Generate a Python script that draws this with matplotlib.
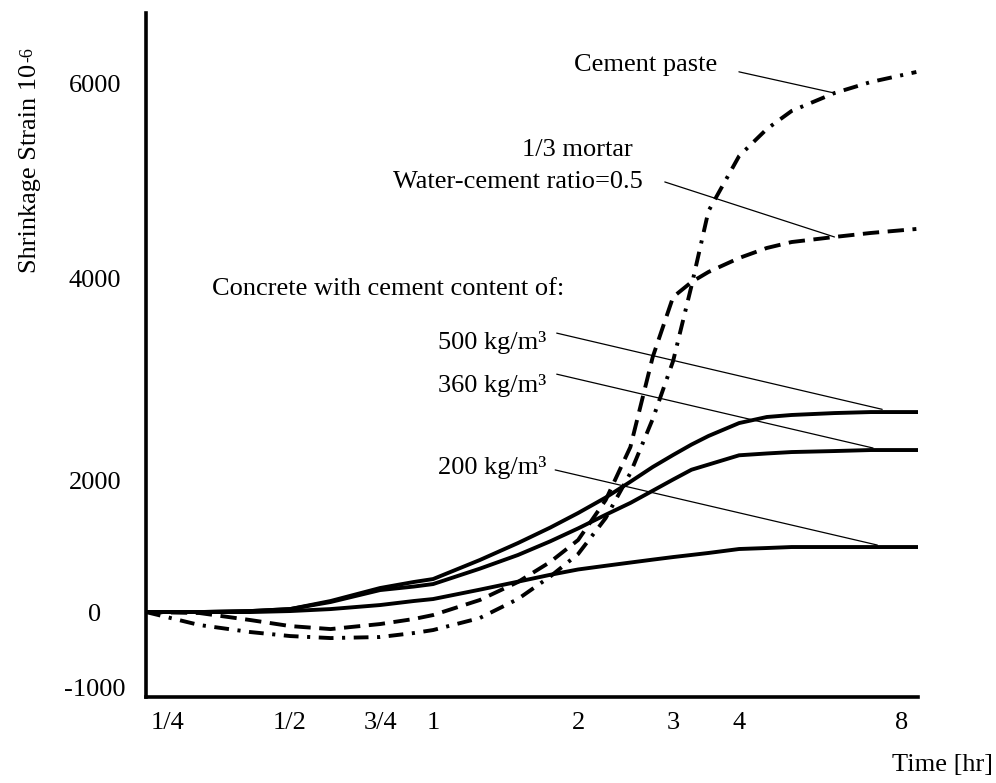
import numpy as np
import matplotlib
matplotlib.use("Agg")
import matplotlib.pyplot as plt

plt.rcParams['font.family'] = ['Liberation Serif', 'DejaVu Serif']
plt.rcParams['axes.unicode_minus'] = False

# time axis [hr]
x_ticks = [0.25, 0.5, 0.75, 1, 2, 3, 4, 8]
x_ticklabels = ['1/4', '1/2', '3/4', '1', '2', '3', '4', '8']
y_ticks = [-1000, 0, 2000, 4000, 6000]

# shrinkage strain curves, 10^-6
t = [0.222, 0.3, 0.4, 0.5, 0.6, 0.75, 0.9, 1, 1.25, 1.5, 1.75, 2, 2.25, 2.5,
     2.75, 3, 3.25, 3.5, 4, 4.5, 5, 6, 7, 8.5]
paste = [0, -173, -267, -320, -347, -333, -280, -240, -80, 197, 538, 879,
         1424, 2069, 2604, 3178, 3921, 4687, 5251, 5528, 5713, 5897, 6010, 6113]
mortar = [0, -13, -107, -187, -227, -160, -93, -40, 182, 455, 758, 1091,
          1697, 2327, 3218, 3812, 3960, 4062, 4205, 4308, 4369, 4421, 4462, 4503]
c500 = [0, 0, 15, 45, 167, 364, 455, 500, 788, 1045, 1279, 1500, 1735, 1974,
        2129, 2248, 2351, 2436, 2564, 2624, 2644, 2663, 2673, 2673]
c360 = [0, 0, 15, 45, 152, 333, 386, 424, 657, 864, 1071, 1267, 1474, 1653,
        1838, 2005, 2102, 2153, 2245, 2263, 2277, 2287, 2297, 2297]
c200 = [0, 0, 0, 15, 45, 106, 167, 197, 339, 460, 564, 645, 701, 750, 794,
        833, 865, 895, 955, 970, 985, 985, 985, 985]

# the original axes are hand-drawn, so both scales are piecewise linear
x_knots = [0, 123, 213, 266, 411, 506, 572, 735]     # at log2 of x_ticks
y_knots = [-75, 0, 132, 334, 529]                    # at y_ticks


def piecewise(xk, yk):
    xk = np.asarray(xk, float)
    yk = np.asarray(yk, float)

    def f(x):
        x = np.asarray(x, float)
        y = np.interp(x, xk, yk)
        lo = yk[0] + (x - xk[0]) * (yk[1] - yk[0]) / (xk[1] - xk[0])
        hi = yk[-1] + (x - xk[-1]) * (yk[-1] - yk[-2]) / (xk[-1] - xk[-2])
        return np.where(x < xk[0], lo, np.where(x > xk[-1], hi, y))
    return f


lx = np.log2(x_ticks)
x_fwd = piecewise(lx, x_knots)
x_inv = piecewise(x_knots, lx)
y_fwd = piecewise(y_ticks, y_knots)
y_inv = piecewise(y_knots, y_ticks)

fig = plt.figure(figsize=(9.96, 7.83), dpi=100)
ax = fig.add_axes([0.1466, 0.1098, 0.7751, 0.8736])
ax.set_xscale('function', functions=(lambda v: x_fwd(np.log2(np.maximum(v, 1e-6))),
                                     lambda p: 2.0 ** x_inv(p)))
ax.set_yscale('function', functions=(y_fwd, y_inv))

lw = 2.8
ax.plot(t, paste, color='black', lw=lw, dashes=(3.8, 2.2, 0.8, 2.2))
ax.plot(t, mortar, color='black', lw=lw, dashes=(4.2, 2.2))
ax.plot(t, c500, color='black', lw=lw)
ax.plot(t, c360, color='black', lw=lw)
ax.plot(t, c200, color='black', lw=lw)

ax.set_xlim(0.222, 8.56)
ax.set_ylim(-1133, 6718)
ax.set_xticks(x_ticks)
ax.set_xticklabels(x_ticklabels)
ax.set_yticks(y_ticks)
ax.minorticks_off()
ax.tick_params(axis='both', length=0, labelsize=19)
ax.tick_params(axis='x', pad=11)
ax.tick_params(axis='y', pad=36.7)
for lab in ax.get_yticklabels():
    lab.set_horizontalalignment('center')

for side in ['top', 'right']:
    ax.spines[side].set_visible(False)
for side in ['left', 'bottom']:
    ax.spines[side].set_linewidth(2.6)

fs = 19
ax.text(0.740, 0.924, 'Cement paste', transform=ax.transAxes, fontsize=fs, ha='right', va='center')
ax.text(0.631, 0.800, '1/3 mortar', transform=ax.transAxes, fontsize=fs, ha='right', va='center')
ax.text(0.644, 0.753, 'Water-cement ratio=0.5', transform=ax.transAxes, fontsize=fs, ha='right', va='center')
ax.text(0.0855, 0.597, 'Concrete with cement content of:', transform=ax.transAxes, fontsize=fs, ha='left', va='center')
ax.text(0.519, 0.519, '500 kg/m³', transform=ax.transAxes, fontsize=fs, ha='right', va='center')
ax.text(0.519, 0.456, '360 kg/m³', transform=ax.transAxes, fontsize=fs, ha='right', va='center')
ax.text(0.519, 0.336, '200 kg/m³', transform=ax.transAxes, fontsize=fs, ha='right', va='center')

# leader lines: start beside the label, end on the curve
leaders = [((0.768, 0.914), (6.0, 5897)),
           ((0.672, 0.753), (6.0, 4421)),
           ((0.532, 0.532), (7.35, 2700)),
           ((0.532, 0.472), (7.07, 2317)),
           ((0.530, 0.332), (7.2, 1015))]
for start, end in leaders:
    ax.annotate('', xy=end, xycoords='data', xytext=start, textcoords='axes fraction',
                arrowprops=dict(arrowstyle='-', lw=0.9, color='black', shrinkA=0, shrinkB=0))

ylab = fig.text(0.030, 0.785, 'Shrinkage Strain 10', rotation=90, fontsize=fs,
                ha='center', va='center')
ax.annotate('-6', xy=(0, 1), xycoords=ylab, xytext=(0, 1), textcoords='offset points',
            rotation=90, fontsize=13, ha='left', va='bottom')
fig.text(0.946, 0.023, 'Time [hr]', fontsize=fs, ha='center', va='center')

fig.savefig('out.png', dpi=100)
